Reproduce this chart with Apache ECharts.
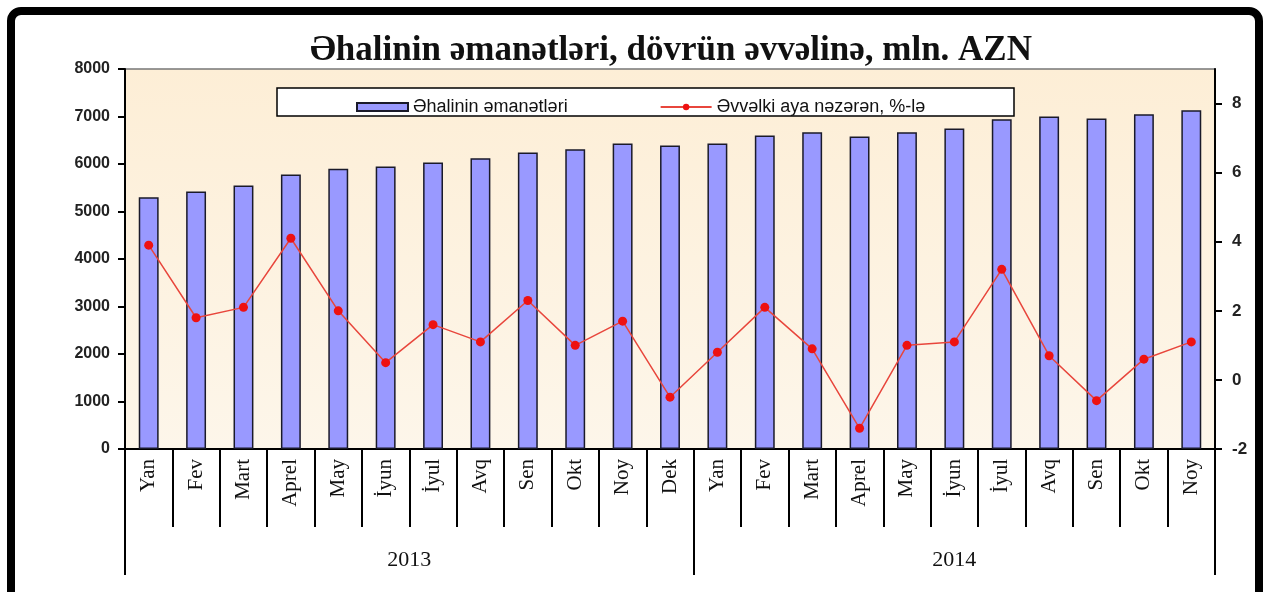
<!DOCTYPE html>
<html>
<head>
<meta charset="utf-8">
<script src="https://cdn.jsdelivr.net/npm/echarts@6/dist/echarts.min.js"></script>
<style>
  html, body { margin: 0; padding: 0; background: #fff; }
  #chart { width: 1267px; height: 592px; }
</style>
</head>
<body>
<div id="chart"></div>
<script>
// aylar (2013: Yan..Dek, 2014: Yan..Noy)
const months = ["Yan", "Fev", "Mart", "Aprel", "May", "İyun", "İyul", "Avq", "Sen", "Okt", "Noy", "Dek",
  "Yan", "Fev", "Mart", "Aprel", "May", "İyun", "İyul", "Avq", "Sen", "Okt", "Noy"];
const years = ["2013", "2014"];
const yearCenters = [6, 17.5];
const yearBounds = [0, 12, 23];
// əhalinin əmanətləri, mln. AZN
const deposits = [5300, 5420, 5550, 5780, 5900, 5950, 6030, 6120, 6240, 6310, 6430, 6390,
  6430, 6600, 6670, 6580, 6670, 6750, 6940, 7000, 6960, 7050, 7130];
// əvvəlki aya nəzərən, %
const monthlyChange = [3.9, 1.8, 2.1, 4.1, 2.0, 0.5, 1.6, 1.1, 2.3, 1.0, 1.7, -0.5,
  0.8, 2.1, 0.9, -1.4, 1.0, 1.1, 3.2, 0.7, -0.6, 0.6, 1.1];
const rightTicks = [-2, 0, 2, 4, 6, 8];

const chart = echarts.init(document.getElementById("chart"));
const serif = "Liberation Serif";
const sans = "Liberation Sans";

chart.setOption({
  backgroundColor: "#fff",
  animation: false,
  title: {
    text: "Əhalinin əmanətləri, dövrün əvvəlinə, mln. AZN",
    left: 666,
    top: 28,
    textAlign: "center",
    textStyle: { fontFamily: serif, fontWeight: "bold", fontSize: 35, color: "#111" }
  },
  graphic: [
    {
      type: "rect",
      shape: { x: 11, y: 11, width: 1248, height: 640, r: 10 },
      style: { fill: "none", stroke: "#000", lineWidth: 8 },
      z: 100
    },
    {
      type: "rect",
      shape: { x: 277, y: 88, width: 737, height: 28 },
      style: { fill: "#fff", stroke: "#000", lineWidth: 1.5 },
      z: 5
    }
  ],
  legend: {
    left: 351,
    top: 93,
    itemGap: 92,
    itemWidth: 51,
    itemHeight: 8,
    z: 10,
    textStyle: { fontFamily: sans, fontSize: 18, color: "#111" },
    data: [
      { name: "Əhalinin əmanətləri", icon: "rect" },
      { name: "Əvvəlki aya nəzərən, %-lə" }
    ]
  },
  grid: {
    left: 125,
    right: 52,
    top: 69,
    bottom: 143,
    show: true,
    borderColor: "#777",
    borderWidth: 1.5,
    backgroundColor: new echarts.graphic.LinearGradient(0, 0, 0, 1, [
      { offset: 0, color: "#fdeed6" },
      { offset: 1, color: "#fdf6ea" }
    ])
  },
  xAxis: [
    {
      type: "category",
      data: months,
      boundaryGap: true,
      axisLine: { onZero: false, lineStyle: { color: "#000", width: 2 } },
      axisTick: { show: true, interval: 0, length: 78, lineStyle: { color: "#000", width: 2 } },
      axisLabel: {
        rotate: 90,
        margin: 10,
        interval: 0,
        fontFamily: serif,
        fontSize: 21,
        color: "#111"
      }
    },
    {
      type: "value",
      min: 0,
      max: 23,
      position: "bottom",
      axisLine: { show: false, onZero: false },
      splitLine: { show: false },
      axisTick: {
        show: true,
        length: 126,
        customValues: yearBounds,
        lineStyle: { color: "#000", width: 2 }
      },
      axisLabel: {
        customValues: yearCenters,
        margin: 100,
        fontFamily: serif,
        fontSize: 22,
        color: "#111",
        formatter: (v) => years[yearCenters.indexOf(v)] || ""
      }
    }
  ],
  yAxis: [
    {
      type: "value",
      min: 0,
      max: 8000,
      interval: 1000,
      axisLine: { show: true, onZero: false, lineStyle: { color: "#000", width: 2 } },
      axisTick: { show: true, length: 7, lineStyle: { color: "#000", width: 2 } },
      splitLine: { show: false },
      axisLabel: {
        margin: 15,
        fontFamily: sans,
        fontWeight: "bold",
        fontSize: 16,
        color: "#222",
        formatter: (v) => String(v)
      }
    },
    {
      type: "value",
      min: -2,
      max: 9,
      interval: 2,
      position: "right",
      axisLine: { show: true, onZero: false, lineStyle: { color: "#000", width: 2 } },
      axisTick: { show: true, length: 7, customValues: rightTicks, lineStyle: { color: "#000", width: 2 } },
      splitLine: { show: false },
      axisLabel: {
        customValues: rightTicks,
        margin: 17,
        fontFamily: sans,
        fontWeight: "bold",
        fontSize: 17,
        color: "#222"
      }
    }
  ],
  series: [
    {
      name: "Əhalinin əmanətləri",
      type: "bar",
      data: deposits,
      barWidth: "42%",
      itemStyle: { color: "#9999ff", borderColor: "#1a1a2a", borderWidth: 1.5 }
    },
    {
      name: "Əvvəlki aya nəzərən, %-lə",
      type: "line",
      yAxisIndex: 1,
      data: monthlyChange,
      symbol: "circle",
      symbolSize: 9,
      lineStyle: { color: "#e8463c", width: 1.5 },
      itemStyle: { color: "#ee1111" },
      z: 5
    }
  ]
});
</script>
</body>
</html>
